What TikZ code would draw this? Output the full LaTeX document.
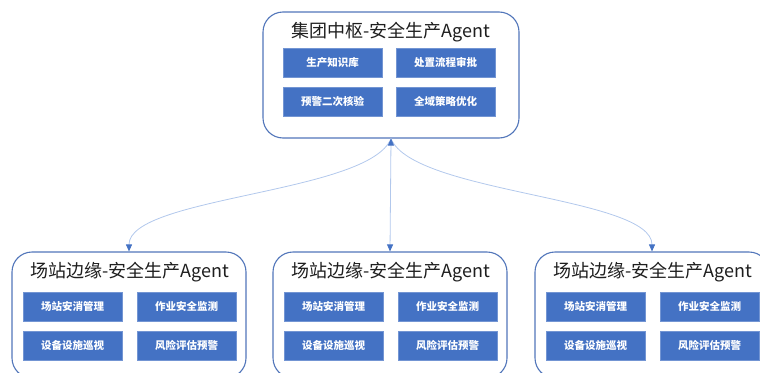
\documentclass[tikz,border=0pt]{standalone}
\usepackage{fontspec}
\setmainfont{Noto Sans CJK SC}
\usetikzlibrary{arrows.meta}
\definecolor{accent}{RGB}{68,114,196}
\definecolor{framec}{RGB}{82,118,186}
\definecolor{linkc}{RGB}{178,200,236}
\definecolor{titlec}{RGB}{30,30,30}
\begin{document}
\begin{tikzpicture}[x=1pt,y=-1pt,
  agentbox/.style={draw=framec, line width=1.1pt, rounded corners=20pt, fill=white, inner sep=0pt},
  taskbox/.style={fill=accent, draw=accent!75!white, line width=0.6pt, minimum width=99pt, minimum height=29pt, inner sep=0pt, text=white, font=\fontsize{10.5}{12}\selectfont\bfseries},
  titletext/.style={font=\fontsize{18}{20}\selectfont, text=titlec, inner sep=0pt},
  linkline/.style={draw=linkc, line width=0.8pt, -{Triangle[length=7pt,width=6pt,color=accent]}},
  linkboth/.style={draw=linkc, line width=0.8pt, {Triangle[length=7pt,width=6pt,color=accent]}-{Triangle[length=7pt,width=6pt,color=accent]}}
]
\useasboundingbox (0,0) rectangle (760,372);
\clip (0,0) rectangle (760,372);

% hub
\node[agentbox, minimum width=256pt, minimum height=126pt] (hub) at (391,75) {};
\node[titletext] (hubtitle) at (391,32) {集团中枢-安全生产Agent};
\node[taskbox] (h1) at (332.5,62.5) {生产知识库};
\node[taskbox] (h2) at (445.5,62.5) {处置流程审批};
\node[taskbox] (h3) at (332.5,101.5) {预警二次核验};
\node[taskbox] (h4) at (445.5,101.5) {全域策略优化};

% stations
\node[agentbox, minimum width=234pt, minimum height=126pt] (st1) at (129,315) {};
\node[agentbox, minimum width=234pt, minimum height=126pt] (st2) at (390,315) {};
\node[agentbox, minimum width=234pt, minimum height=126pt] (st3) at (652,315) {};

\node[titletext] (t1) at (130,272) {场站边缘-安全生产Agent};
\node[titletext] (t2) at (391,272) {场站边缘-安全生产Agent};
\node[titletext] (t3) at (653,272) {场站边缘-安全生产Agent};

\node[taskbox] (a1) at (72.5,306.5) {场站安消管理};
\node[taskbox] (a2) at (186.5,306.5) {作业安全监测};
\node[taskbox] (a3) at (72.5,345.5) {设备设施巡视};
\node[taskbox] (a4) at (186.5,345.5) {风险评估预警};

\node[taskbox] (b1) at (333.5,306.5) {场站安消管理};
\node[taskbox] (b2) at (447.5,306.5) {作业安全监测};
\node[taskbox] (b3) at (333.5,345.5) {设备设施巡视};
\node[taskbox] (b4) at (447.5,345.5) {风险评估预警};

\node[taskbox] (c1) at (595.5,306.5) {场站安消管理};
\node[taskbox] (c2) at (709.5,306.5) {作业安全监测};
\node[taskbox] (c3) at (595.5,345.5) {设备设施巡视};
\node[taskbox] (c4) at (709.5,345.5) {风险评估预警};

% connectors
\draw[linkline] (hub.south) .. controls +(-22,55) and +(0,-55) .. (st1.north);
\draw[linkline] (hub.south) .. controls +(22,55) and +(0,-55) .. (st3.north);
\draw[linkboth] (hub.south) -- (st2.north);
\end{tikzpicture}
\end{document}
